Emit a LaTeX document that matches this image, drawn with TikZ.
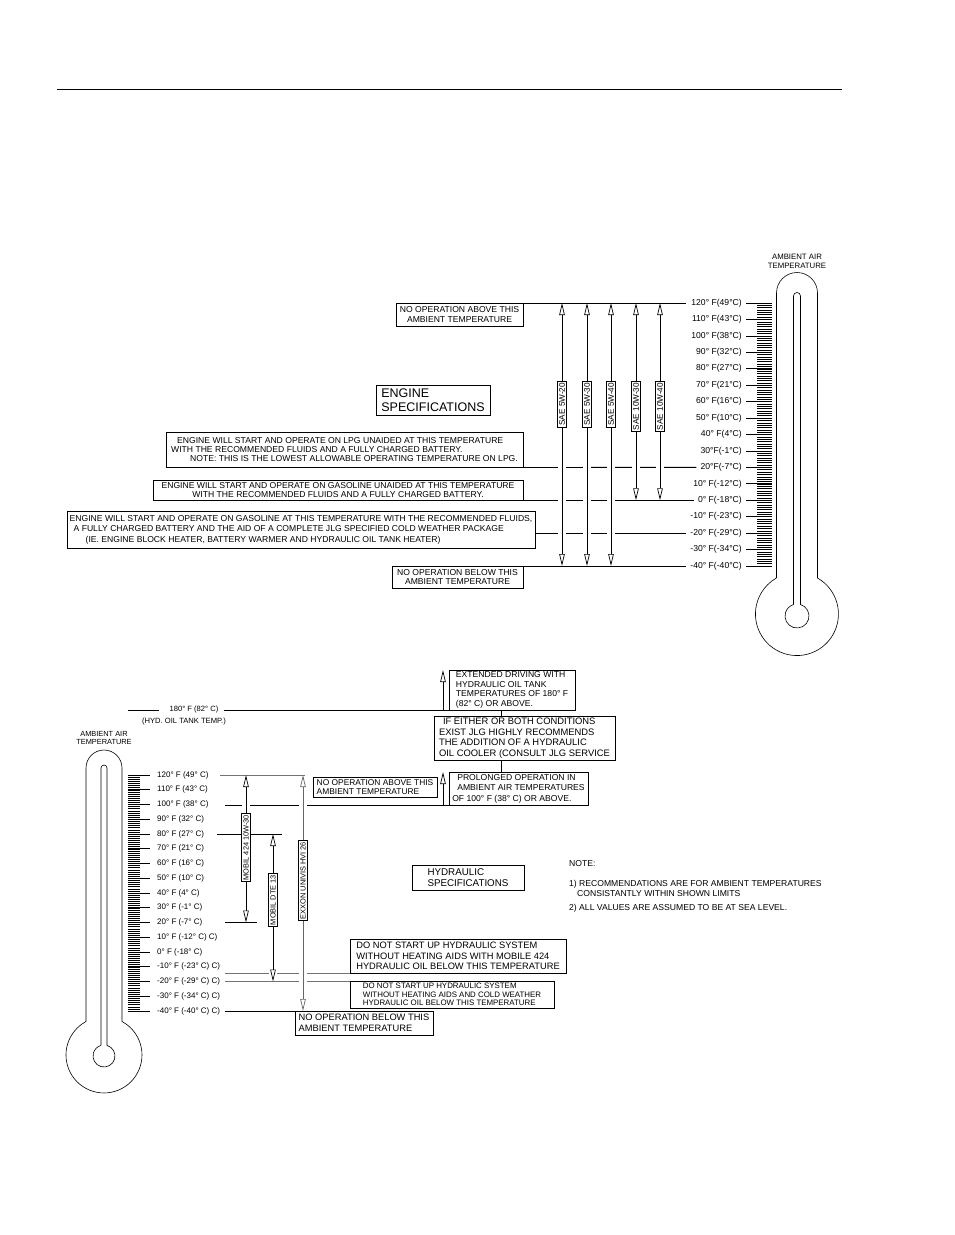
\documentclass[tikz,border=0pt]{standalone}
\usepackage{fontspec}
\setmainfont{Liberation Sans}
\usetikzlibrary{arrows.meta}
\newcommand\fsz[2]{\fontsize{#1}{#2}\selectfont}
\begin{document}
\begin{tikzpicture}[x=1pt,y=-1pt,
  otri/.tip={Triangle[open,length=12pt,width=5.5pt,line width=0.7pt]},
  ln/.style={line width=0.8pt},
  arr/.style={line width=0.8pt,-otri},
  arrb/.style={line width=0.8pt,otri-otri},
  gap/.style={draw=white,line width=8pt},
  box/.style={draw,line width=0.8pt,inner sep=0pt,outer sep=0pt,anchor=north west,font=\fsz{8.6}{9.3}},
  tl/.style={inner sep=0pt,font=\fsz{8.6}{9}},
  bl/.style={inner sep=0pt,font=\fsz{8}{9}},
  vlab/.style={draw,fill=white,line width=0.8pt,rotate=90,anchor=east,inner sep=1.5pt},
  thermo/.style={line width=0.6pt},
]
\useasboundingbox (0,0) rectangle (954,1235);
\draw[line width=1pt] (57,89) -- (842,89);

% ================= ENGINE =================
% thermometer
\node[font=\fsz{7.8}{9},align=center,inner sep=0] (tA) at (797,261.5) {AMBIENT AIR\\TEMPERATURE};
\draw[thermo] (776.5,578) -- (776.5,293) arc[start angle=180,end angle=0,radius=20.5pt] -- (817.5,578) arc[start angle=60.3,end angle=-239.7,radius=41.5pt];
\draw[thermo] (793.5,604.5) -- (793.5,296) arc[start angle=180,end angle=0,radius=3.5pt] -- (800.5,604.5) arc[start angle=73.1,end angle=-253.1,radius=12pt];
\foreach \k in {0,...,112} \draw[line width=0.5pt] (757,303+\k*2.348214) -- (772,303+\k*2.348214);
\foreach \k in {0,...,16} \draw[line width=0.7pt] (746,303+\k*16.4375) -- (772,303+\k*16.4375);
\foreach \lab [count=\i from 0] in {120° F(49°C),110° F(43°C),100° F(38°C),90° F(32°C),80° F(27°C),70° F(21°C),60° F(16°C),50° F(10°C),40° F(4°C),30°F(-1°C),20°F(-7°C),10° F(-12°C),0° F(-18°C),-10° F(-23°C),-20° F(-29°C),-30° F(-34°C),-40° F(-40°C)}
  \node[tl,anchor=east] (eL\i) at (742,303+\i*16.4375) {\lab};

% boxes
\node[box,align=center,minimum width=127,minimum height=23] (E1) at (396,303) {NO OPERATION ABOVE THIS\\AMBIENT TEMPERATURE};
\node[box,align=left,minimum width=114,minimum height=30,font=\fsz{12.5}{13.5}] (E2) at (376,385) {ENGINE\\SPECIFICATIONS};
\node[box,align=left,minimum width=357,minimum height=35.4] (E3) at (166,432) {\hspace*{6pt}ENGINE WILL START AND OPERATE ON LPG UNAIDED AT THIS TEMPERATURE\\WITH THE RECOMMENDED FLUIDS AND A FULLY CHARGED BATTERY.\\\hspace*{19pt}NOTE: THIS IS THE LOWEST ALLOWABLE OPERATING TEMPERATURE ON LPG.};
\node[box,align=center,minimum width=370,minimum height=20.25] (E4) at (153,480) {ENGINE WILL START AND OPERATE ON GASOLINE UNAIDED AT THIS TEMPERATURE\\WITH THE RECOMMENDED FLUIDS AND A FULLY CHARGED BATTERY.};
\node[box,align=left,minimum width=468,minimum height=37,font=\fsz{8.6}{10.4}] (E5) at (67,511) {ENGINE WILL START AND OPERATE ON GASOLINE AT THIS TEMPERATURE WITH THE RECOMMENDED FLUIDS,\\\hspace*{4pt}A FULLY CHARGED BATTERY AND THE AID OF A COMPLETE JLG SPECIFIED COLD WEATHER PACKAGE\\\hspace*{16pt}(IE. ENGINE BLOCK HEATER, BATTERY WARMER AND HYDRAULIC OIL TANK HEATER)};
\node[box,align=center,minimum width=131,minimum height=22] (E6) at (392,566) {NO OPERATION BELOW THIS\\AMBIENT TEMPERATURE};

% level lines
\draw[ln] (E1.east |- eL0.west) -- ([xshift=-5pt]eL0.west);
\draw[ln] (E3.south east) -- ([xshift=-4pt]eL10.west);
\draw[ln] (E4.south east) -- ([xshift=-4pt]eL12.west);
\draw[ln] (E5.east |- eL14.west) -- ([xshift=-4pt]eL14.west);
\draw[ln] (E6.north east) -- ([xshift=-4pt]eL16.west);

% verticals
\foreach \x in {562,587,611} \draw[gap] (\x,318) -- (\x,551);
\foreach \x in {636,660} \draw[gap] (\x,318) -- (\x,485);
\foreach \x in {562,587,611} \draw[arrb] (\x,303) -- (\x,566);
\foreach \x in {636,660} \draw[arrb] (\x,303) -- (\x,500.25);
\node[vlab,font=\fsz{8.2}{9}] (s1) at (562,381) {SAE 5W-20};
\node[vlab,font=\fsz{8.2}{9}] (s2) at (587,381) {SAE 5W-30};
\node[vlab,font=\fsz{8.2}{9}] (s3) at (611,381) {SAE 5W-40};
\node[vlab,font=\fsz{8.2}{9}] (s4) at (636,381) {SAE 10W-30};
\node[vlab,font=\fsz{8.2}{9}] (s5) at (660,381) {SAE 10W-40};

% ================= HYDRAULIC =================
\node[font=\fsz{7.4}{8.3},align=center,inner sep=0] (tB) at (104,738) {AMBIENT AIR\\TEMPERATURE};
\draw[thermo] (86,1021.5) -- (86,768) arc[start angle=180,end angle=0,radius=18pt] -- (122,1021.5) arc[start angle=61.7,end angle=-241.7,radius=38pt];
\draw[thermo] (101,1045.4) -- (101,768) arc[start angle=180,end angle=0,radius=3pt] -- (107,1045.4) arc[start angle=74.2,end angle=-254.2,radius=11pt];
\foreach \k in {0,...,112} \draw[line width=0.5pt] (128,775+\k*2.107143) -- (140,775+\k*2.107143);
\foreach \k in {0,...,16} \draw[line width=0.7pt] (128,775+\k*14.75) -- (150,775+\k*14.75);
\foreach \lab [count=\i from 0] in {120° F (49° C),110° F (43° C),100° F (38° C),90° F (32° C),80° F (27° C),70° F (21° C),60° F (16° C),50° F (10° C),40° F (4° C),30° F (-1° C),20° F (-7° C),10° F (-12° C) C),0° F (-18° C),-10° F (-23° C) C),-20° F (-29° C) C),-30° F (-34° C) C),-40° F (-40° C) C)}
  \node[bl,anchor=west] (hL\i) at (157,775+\i*14.75) {\lab};

% boxes
\node[box,align=left,minimum width=126,minimum height=40,font=\fsz{8.6}{9.7}] (H1) at (449,670) {EXTENDED DRIVING WITH\\HYDRAULIC OIL TANK\\TEMPERATURES OF 180° F\\(82° C) OR ABOVE.};
\node[box,align=left,minimum width=181,minimum height=44,font=\fsz{9.4}{10.5}] (H2) at (434,716) {\hspace*{4pt}IF EITHER OR BOTH CONDITIONS\\EXIST JLG HIGHLY RECOMMENDS\\THE ADDITION OF A HYDRAULIC\\OIL COOLER (CONSULT JLG SERVICE};
\node[box,align=left,minimum width=139,minimum height=33,font=\fsz{8.6}{10.5}] (H3) at (449,772) {\hspace*{5pt}PROLONGED OPERATION IN\\\hspace*{5pt}AMBIENT AIR TEMPERATURES\\OF 100° F (38° C) OR ABOVE.};
\node[box,align=left,minimum width=124,minimum height=20,font=\fsz{8.4}{9.5}] (H4) at (313,777) {NO OPERATION ABOVE THIS\\AMBIENT TEMPERATURE};
\node[box,align=left,minimum width=112,minimum height=25,font=\fsz{9.8}{11}] (H5) at (412,865) {HYDRAULIC\\SPECIFICATIONS};
\node[box,align=left,minimum width=216,minimum height=34,font=\fsz{9.3}{10.4}] (H6) at (350,939) {DO NOT START UP HYDRAULIC SYSTEM\\WITHOUT HEATING AIDS WITH MOBILE 424\\HYDRAULIC OIL BELOW THIS TEMPERATURE};
\node[box,align=left,minimum width=204,minimum height=26.5,font=\fsz{7.9}{8.5}] (H7) at (350,981.5) {DO NOT START UP HYDRAULIC SYSTEM\\WITHOUT HEATING AIDS AND COLD WEATHER\\HYDRAULIC OIL BELOW THIS TEMPERATURE};
\node[box,align=left,minimum width=138,minimum height=24,font=\fsz{9.3}{10.8}] (H8) at (295,1011) {NO OPERATION BELOW THIS\\AMBIENT TEMPERATURE};

% 180 F line
\node[font=\fsz{7.6}{8},inner sep=0] (t180) at (194,710) {180° F (82° C)};
\node[font=\fsz{7.6}{8},inner sep=0] (t180b) at (184,722) {(HYD. OIL TANK TEMP.)};
\coordinate (c128) at (128,710);
\draw[ln] (c128) -- ([xshift=-10pt]t180.west);
\draw[ln] ([xshift=5pt]t180.east) -- (H1.south west);
\coordinate (c443) at (443,0);
\coordinate (c501) at (501,0);
\draw[arr] (H1.south west -| c443) -- (H1.north west -| c443);
\draw[ln] (H1.south -| c501) -- (H2.north -| c501);
\draw[ln] (H2.south -| c501) -- (H3.north -| c501);
\draw[arr] (H3.south west -| c443) -- (H3.north west -| c443);

% level lines
\draw[ln,draw=black!55] (220,775) -- (305,775);
\draw[ln] (225,805) -- (H3.south west);
\draw[ln] (217,834) -- (282,834);
\draw[ln] (225,922.5) -- (257,922.5);
\draw[ln,draw=black!55] (225,973) -- (H6.south west);
\draw[ln,draw=black!55] (225,981.5) -- (H7.north west);
\draw[ln] (225,1011) -- (H8.north west);

% verticals
\draw[gap] (246,790) -- (246,906);
\draw[gap] (273,849) -- (273,979);
\draw[gap] (303,790) -- (303,997);
\draw[arrb] (246,775) -- (246,922.5);
\draw[arrb] (273,834) -- (273,981.5);
\draw[arrb,draw=black!60] (303,775) -- (303,1011);
\node[vlab,font=\fsz{7.4}{8}] (m1) at (246,813) {MOBIL 424 10W-30};
\node[vlab,font=\fsz{7.4}{8}] (m2) at (273,873) {MOBIL DTE 13};
\node[vlab,font=\fsz{7.4}{8}] (m3) at (303,840) {EXXON UNIVIS HVI 26};

% note
\node[font=\fsz{8.6}{9},inner sep=0,anchor=west] (n1) at (569,864) {NOTE:};
\node[font=\fsz{8.6}{9},inner sep=0,anchor=west] (n2) at (569,884) {1) RECOMMENDATIONS ARE FOR AMBIENT TEMPERATURES};
\node[font=\fsz{8.6}{9},inner sep=0,anchor=west] (n3) at (577,894) {CONSISTANTLY WITHIN SHOWN LIMITS};
\node[font=\fsz{8.6}{9},inner sep=0,anchor=west] (n4) at (569,908) {2) ALL VALUES ARE ASSUMED TO BE AT SEA LEVEL.};
\end{tikzpicture}
\end{document}
